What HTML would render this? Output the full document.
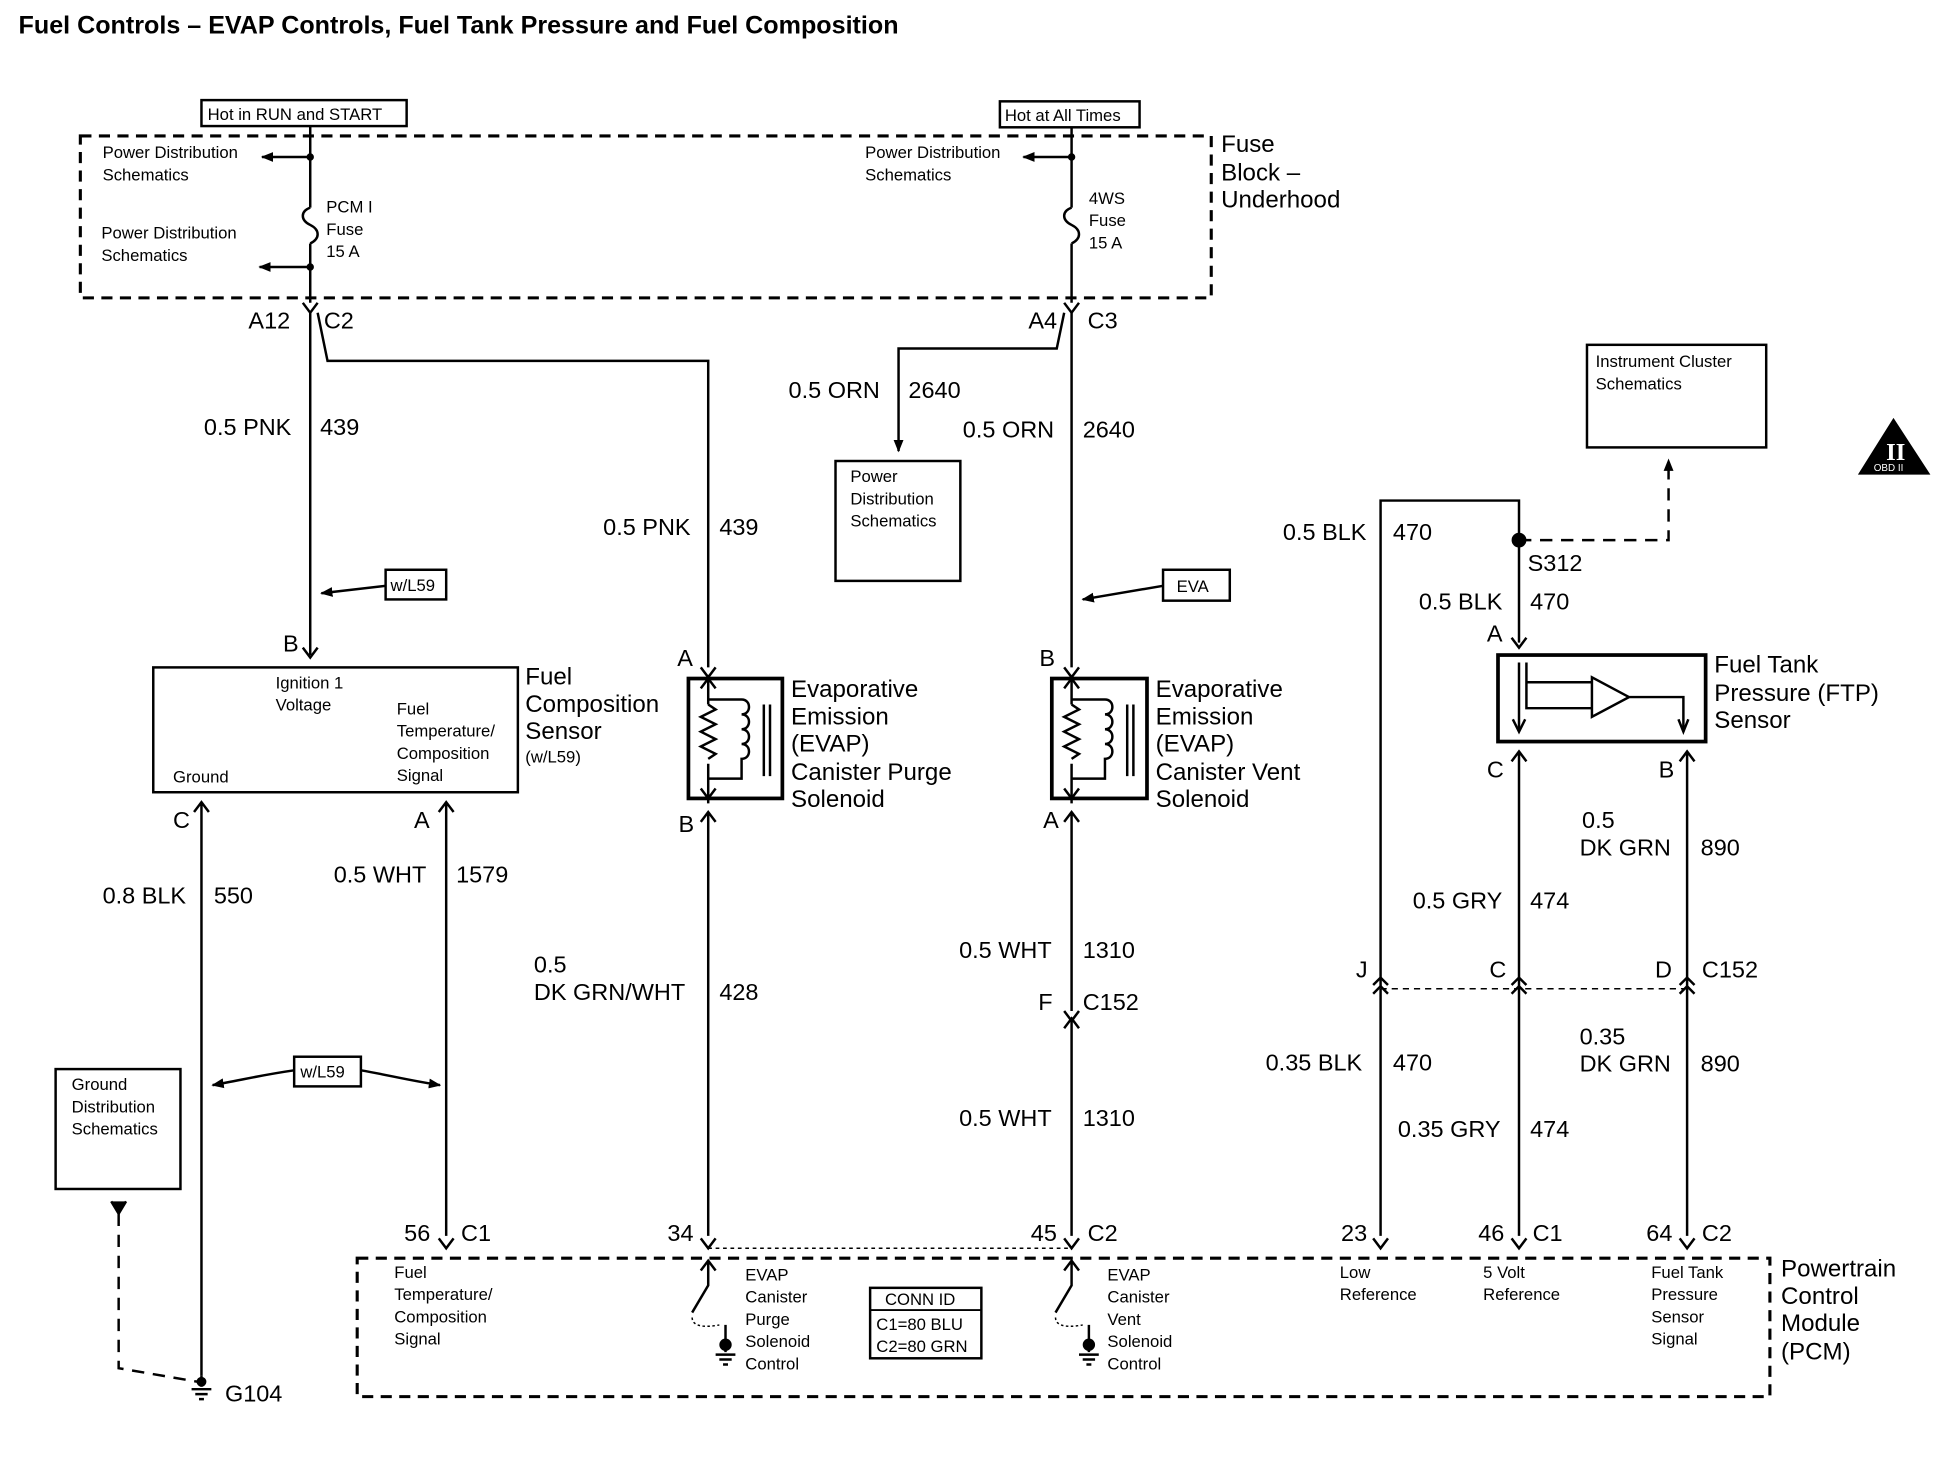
<!DOCTYPE html>
<html><head><meta charset="utf-8"><style>
html,body{margin:0;padding:0;background:#fff;}
svg{display:block;}
text{font-family:"Liberation Sans",Arial,sans-serif;fill:#000;}
.s{font-size:13.5px;}
.m{font-size:19px;}
.l{font-size:19.5px;}
</style></head><body>
<svg width="1938" height="1472" viewBox="0 0 1568 1191" preserveAspectRatio="none" xmlns="http://www.w3.org/2000/svg">
<defs>
<marker id="ar" markerWidth="10" markerHeight="10" refX="9" refY="5" orient="auto" markerUnits="userSpaceOnUse"><path d="M0,1 L10,5 L0,9 z" fill="#000"/></marker>
</defs>
<g stroke="#000" stroke-width="2" fill="none">
<text x="15" y="27" style="font-size:20px;font-weight:bold" textLength="712" lengthAdjust="spacingAndGlyphs" stroke="none">Fuel Controls – EVAP Controls, Fuel Tank Pressure and Fuel Composition</text>
<rect x="163" y="81" width="166" height="21"/>
<rect x="809" y="82" width="113" height="21"/>
<rect x="65" y="110" width="915" height="131" stroke-dasharray="9,6" stroke-width="2.5"/>
<path d="M251,102 V168 M251,197 V245"/>
<path d="M251,168 c-8,3 -8,10 0,14 c8,4 8,11 0,15"/>
<path d="M251,127 H212" marker-end="url(#ar)"/>
<path d="M251,216 H210" marker-end="url(#ar)"/>
<circle cx="251" cy="127" r="2" fill="#000"/><circle cx="251" cy="216" r="2" fill="#000"/>
<path d="M867,103 V168 M867,197 V245"/>
<path d="M867,168 c-8,3 -8,10 0,14 c8,4 8,11 0,15"/>
<path d="M867,127 H828" marker-end="url(#ar)"/>
<circle cx="867" cy="127" r="2" fill="#000"/>
<path d="M245,245 L251,253 L257,245"/>
<path d="M861,245 L867,253 L873,245"/>
<path d="M251,253 V530"/>
<path d="M257,253 L265,292 H573 V540"/>
<path d="M861,253 L855,282 H727 V365" marker-end="url(#ar)"/>
<path d="M867,253 V540"/>
<rect x="676" y="373" width="101" height="97"/>
<rect x="312" y="461" width="49" height="24"/>
<path d="M312,474 L260,480" marker-end="url(#ar)"/>
<rect x="941" y="461" width="54" height="25"/>
<path d="M941,474 L876,485" marker-end="url(#ar)"/>
<path d="M245,524 L251,532 L257,524"/>
<rect x="124" y="540" width="295" height="101"/>
<path d="M157,657 L163,649 L169,657 M163,649 V1113"/>
<path d="M355,657 L361,649 L367,657 M361,649 V1000"/>
<path d="M567,540 L573,548 L579,540"/>
<rect x="557" y="549" width="76" height="97" stroke-width="3"/>
<path d="M573,546 V570 M573,618 V650"/>
<path d="M567,557 L573,549 L579,557 M567,638 L573,646 L579,638"/>
<path d="M573,570 l6,4 l-12,6 l12,6 l-12,6 l12,6 l-12,6 l12,6 l-6,4"/>
<path d="M573,566 H600 c8,0 8,12 0,12 c8,0 8,12 0,12 c8,0 8,12 0,12 c8,0 8,12 0,12 V630 H573"/>
<path d="M618,570 V628 M623,570 V628"/>
<path d="M567,665 L573,657 L579,665 M573,657 V1000"/>
<path d="M861,540 L867,548 L873,540"/>
<rect x="851" y="549" width="77" height="97" stroke-width="3"/>
<path d="M867,546 V570 M867,618 V650"/>
<path d="M861,557 L867,549 L873,557 M861,638 L867,646 L873,638"/>
<path d="M867,570 l6,4 l-12,6 l12,6 l-12,6 l12,6 l-12,6 l12,6 l-6,4"/>
<path d="M867,566 H894 c8,0 8,12 0,12 c8,0 8,12 0,12 c8,0 8,12 0,12 c8,0 8,12 0,12 V630 H867"/>
<path d="M912,570 V628 M917,570 V628"/>
<path d="M861,665 L867,657 L873,665 M867,657 V818"/>
<path d="M861,818 L867,826 L873,818 M861,832 L867,824 L873,832 M867,824 V1000"/>
<path d="M1117,800 V405 H1229 V520"/>
<circle cx="1229" cy="437" r="5" fill="#000"/>
<path d="M1229,437 H1350 V372" stroke-dasharray="10,7" marker-end="url(#ar)"/>
<rect x="1284" y="279" width="145" height="83"/>
<path d="M1223,516 L1229,524 L1235,516"/>
<rect x="1212" y="530" width="168" height="70" stroke-width="3"/>
<path d="M1229,536 V590 M1235,536 V573 H1288 M1235,552 H1288 M1288,548 V580 L1318,564 Z M1318,564 H1362 V592" />
<path d="M1224,582 L1229,592 L1234,582 M1358,582 L1362,592 L1366,582"/>
<path d="M1223,616 L1229,608 L1235,616 M1229,608 V1000"/>
<path d="M1359,616 L1365,608 L1371,616 M1365,608 V1000"/>
<path d="M1117,800 V1000"/>
<path d="M1111,797 L1117,791 L1123,797 M1111,804 L1117,798 L1123,804 M1223,797 L1229,791 L1235,797 M1223,804 L1229,798 L1235,804 M1359,797 L1365,791 L1371,797 M1359,804 L1365,798 L1371,804"/>
<path d="M1117,800 H1365" stroke-dasharray="5,4" stroke-width="1.2"/>
<path d="M355,1002 L361,1010 L367,1002 M567,1002 L573,1010 L579,1002 M861,1002 L867,1010 L873,1002 M1111,1002 L1117,1010 L1123,1002 M1223,1002 L1229,1010 L1235,1002 M1359,1002 L1365,1010 L1371,1002"/>
<path d="M573,1010 H867" stroke-dasharray="3,3" stroke-width="1.2"/>
<rect x="289" y="1018" width="1143" height="112" stroke-dasharray="9,6" stroke-width="2.5"/>
<path d="M567,1028 L573,1020 L579,1028 M573,1020 V1040 L560,1062 M861,1028 L867,1020 L873,1028 M867,1020 V1040 L854,1062"/>
<path d="M560,1066 c0,8 12,8 22,6" stroke-dasharray="2,2" stroke-width="1.2"/>
<path d="M854,1066 c0,8 12,8 22,6" stroke-dasharray="2,2" stroke-width="1.2"/>
<circle cx="587" cy="1088" r="4" fill="#000"/><circle cx="881" cy="1088" r="4" fill="#000"/>
<path d="M587,1072 V1094 M579,1096 H595 M582,1100 H592 M585,1104 H589 M881,1072 V1094 M873,1096 H889 M876,1100 H886 M879,1104 H883"/>
<rect x="704" y="1042" width="90" height="57"/>
<path d="M704,1060 H794" stroke-width="1.5"/>
<rect x="45" y="865" width="101" height="97"/>
<path d="M96,982 V1107 L160,1118" stroke-dasharray="10,7"/>
<path d="M90,972 L96,982 L102,972" fill="#000"/>
<circle cx="163" cy="1118" r="3" fill="#000"/>
<path d="M163,1113 V1122 M155,1124 H171 M158,1128 H168 M161,1132 H165"/>
<rect x="238" y="855" width="54" height="24"/>
<path d="M238,866 C210,870 195,874 172,878" marker-end="url(#ar)"/>
<path d="M292,866 C315,870 330,874 356,878" marker-end="url(#ar)"/>
<path d="M1532,340 L1560,383 L1505,383 Z" fill="#000"/>
</g>
<g>
<text class="s" x="168" y="97">Hot in RUN and START</text>
<text class="s" x="813" y="98">Hot at All Times</text>
<text class="l" x="988" y="123">Fuse</text><text class="l" x="988" y="146">Block –</text><text class="l" x="988" y="168">Underhood</text>
<text class="s" x="83" y="128">Power Distribution</text><text class="s" x="83" y="146">Schematics</text>
<text class="s" x="82" y="193">Power Distribution</text><text class="s" x="82" y="211">Schematics</text>
<text class="s" x="264" y="172">PCM I</text><text class="s" x="264" y="190">Fuse</text><text class="s" x="264" y="208">15 A</text>
<text class="s" x="700" y="128">Power Distribution</text><text class="s" x="700" y="146">Schematics</text>
<text class="s" x="881" y="165">4WS</text><text class="s" x="881" y="183">Fuse</text><text class="s" x="881" y="201">15 A</text>
<text class="m" x="201" y="266">A12</text><text class="m" x="262" y="266">C2</text>
<text class="m" x="832" y="266">A4</text><text class="m" x="880" y="266">C3</text>
<text class="m" x="165" y="352">0.5 PNK</text><text class="m" x="259" y="352">439</text>
<text class="m" x="638" y="322">0.5 ORN</text><text class="m" x="735" y="322">2640</text>
<text class="m" x="779" y="354">0.5 ORN</text><text class="m" x="876" y="354">2640</text>
<text class="m" x="488" y="433">0.5 PNK</text><text class="m" x="582" y="433">439</text>
<text class="s" x="688" y="390">Power</text><text class="s" x="688" y="408">Distribution</text><text class="s" x="688" y="426">Schematics</text>
<text class="s" x="1291" y="297">Instrument Cluster</text><text class="s" x="1291" y="315">Schematics</text>
<text class="s" x="316" y="478">w/L59</text>
<text class="s" x="952" y="479">EVA</text>
<text class="m" x="1038" y="437">0.5 BLK</text><text class="m" x="1127" y="437">470</text>
<text class="m" x="1236" y="462">S312</text>
<text class="m" x="1148" y="493">0.5 BLK</text><text class="m" x="1238" y="493">470</text>
<text class="m" x="229" y="527">B</text>
<text class="m" x="548" y="539">A</text><text class="m" x="841" y="539">B</text><text class="m" x="1203" y="519">A</text>
<text class="s" x="223" y="557">Ignition 1</text><text class="s" x="223" y="575">Voltage</text>
<text class="s" x="321" y="578">Fuel</text><text class="s" x="321" y="596">Temperature/</text><text class="s" x="321" y="614">Composition</text><text class="s" x="321" y="632">Signal</text>
<text class="s" x="140" y="633">Ground</text>
<text class="l" x="425" y="554">Fuel</text><text class="l" x="425" y="576">Composition</text><text class="l" x="425" y="598">Sensor</text><text class="s" x="425" y="617">(w/L59)</text>
<text class="l" x="640" y="564">Evaporative</text><text class="l" x="640" y="586">Emission</text><text class="l" x="640" y="608">(EVAP)</text><text class="l" x="640" y="631">Canister Purge</text><text class="l" x="640" y="653">Solenoid</text>
<text class="l" x="935" y="564">Evaporative</text><text class="l" x="935" y="586">Emission</text><text class="l" x="935" y="608">(EVAP)</text><text class="l" x="935" y="631">Canister Vent</text><text class="l" x="935" y="653">Solenoid</text>
<text class="l" x="1387" y="544">Fuel Tank</text><text class="l" x="1387" y="567">Pressure (FTP)</text><text class="l" x="1387" y="589">Sensor</text>
<text class="m" x="1203" y="629">C</text><text class="m" x="1342" y="629">B</text>
<text class="m" x="140" y="670">C</text><text class="m" x="335" y="670">A</text><text class="m" x="549" y="673">B</text><text class="m" x="844" y="670">A</text>
<text class="m" x="1280" y="670">0.5</text><text class="m" x="1278" y="692">DK GRN</text><text class="m" x="1376" y="692">890</text>
<text class="m" x="270" y="714">0.5 WHT</text><text class="m" x="369" y="714">1579</text>
<text class="m" x="83" y="731">0.8 BLK</text><text class="m" x="173" y="731">550</text>
<text class="m" x="1143" y="735">0.5 GRY</text><text class="m" x="1238" y="735">474</text>
<text class="m" x="432" y="787">0.5</text><text class="m" x="432" y="809">DK GRN/WHT</text><text class="m" x="582" y="809">428</text>
<text class="m" x="776" y="775">0.5 WHT</text><text class="m" x="876" y="775">1310</text>
<text class="m" x="1097" y="791">J</text><text class="m" x="1205" y="791">C</text><text class="m" x="1339" y="791">D</text><text class="m" x="1377" y="791">C152</text>
<text class="m" x="840" y="817">F</text><text class="m" x="876" y="817">C152</text>
<text class="m" x="1278" y="845">0.35</text><text class="m" x="1278" y="867">DK GRN</text><text class="m" x="1376" y="867">890</text>
<text class="m" x="1024" y="866">0.35 BLK</text><text class="m" x="1127" y="866">470</text>
<text class="s" x="58" y="882">Ground</text><text class="s" x="58" y="900">Distribution</text><text class="s" x="58" y="918">Schematics</text>
<text class="s" x="243" y="872">w/L59</text>
<text class="m" x="776" y="911">0.5 WHT</text><text class="m" x="876" y="911">1310</text>
<text class="m" x="1131" y="920">0.35 GRY</text><text class="m" x="1238" y="920">474</text>
<text class="m" x="327" y="1004">56</text><text class="m" x="373" y="1004">C1</text>
<text class="m" x="540" y="1004">34</text><text class="m" x="834" y="1004">45</text><text class="m" x="880" y="1004">C2</text>
<text class="m" x="1085" y="1004">23</text><text class="m" x="1196" y="1004">46</text><text class="m" x="1240" y="1004">C1</text>
<text class="m" x="1332" y="1004">64</text><text class="m" x="1377" y="1004">C2</text>
<text class="s" x="319" y="1034">Fuel</text><text class="s" x="319" y="1052">Temperature/</text><text class="s" x="319" y="1070">Composition</text><text class="s" x="319" y="1088">Signal</text>
<text class="s" x="603" y="1036">EVAP</text><text class="s" x="603" y="1054">Canister</text><text class="s" x="603" y="1072">Purge</text><text class="s" x="603" y="1090">Solenoid</text><text class="s" x="603" y="1108">Control</text>
<text class="s" x="896" y="1036">EVAP</text><text class="s" x="896" y="1054">Canister</text><text class="s" x="896" y="1072">Vent</text><text class="s" x="896" y="1090">Solenoid</text><text class="s" x="896" y="1108">Control</text>
<text class="s" x="716" y="1056">CONN ID</text><text class="s" x="709" y="1076">C1=80 BLU</text><text class="s" x="709" y="1094">C2=80 GRN</text>
<text class="s" x="1084" y="1034">Low</text><text class="s" x="1084" y="1052">Reference</text>
<text class="s" x="1200" y="1034">5 Volt</text><text class="s" x="1200" y="1052">Reference</text>
<text class="s" x="1336" y="1034">Fuel Tank</text><text class="s" x="1336" y="1052">Pressure</text><text class="s" x="1336" y="1070">Sensor</text><text class="s" x="1336" y="1088">Signal</text>
<text class="l" x="1441" y="1033">Powertrain</text><text class="l" x="1441" y="1055">Control</text><text class="l" x="1441" y="1077">Module</text><text class="l" x="1441" y="1100">(PCM)</text>
<text class="m" x="182" y="1134">G104</text>
<text x="1526" y="372" style="font-size:20px;font-family:'Liberation Serif',serif;fill:#fff;font-weight:bold">II</text>
<text x="1516" y="381" style="font-size:8px;fill:#fff">OBD II</text>
</g>
</svg>
</body></html>
